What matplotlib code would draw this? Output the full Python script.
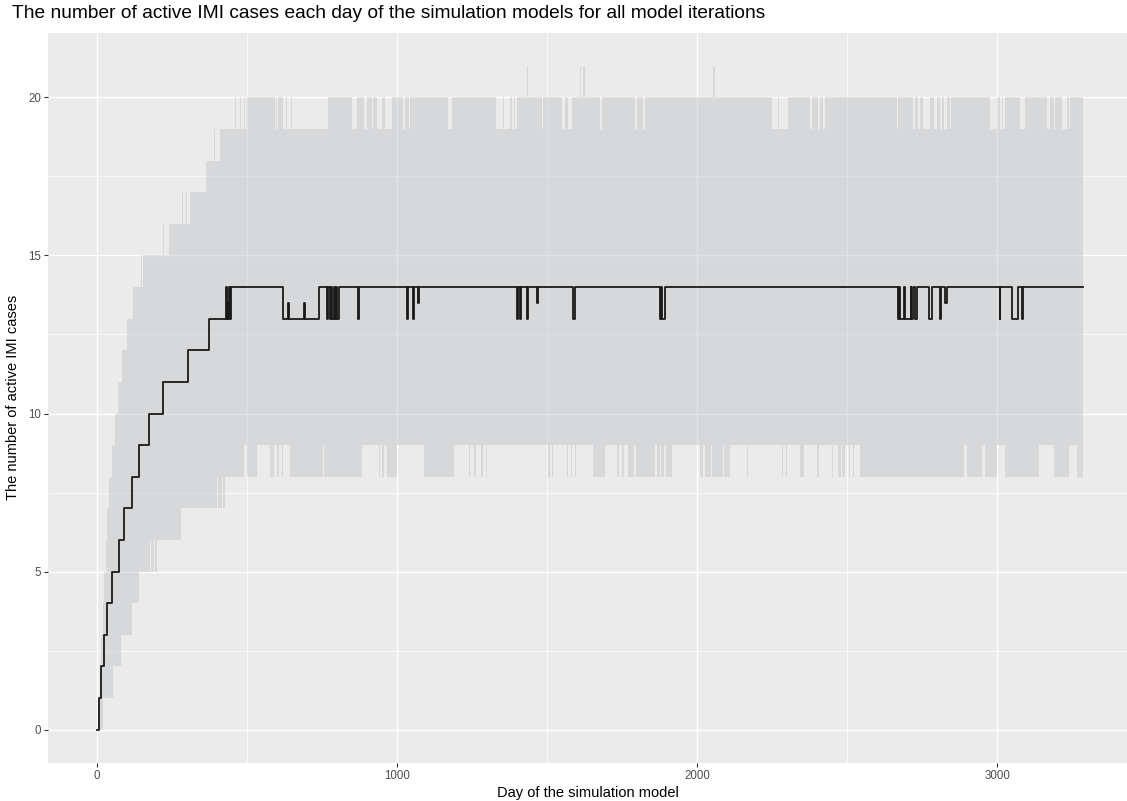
import matplotlib
matplotlib.use('Agg')
import matplotlib.pyplot as plt
import numpy as np

plt.rcParams['font.family'] = ['Liberation Sans', 'DejaVu Sans']

TITLE = 'The number of active IMI cases each day of the simulation models for all model iterations'
X_LABEL = 'Day of the simulation model'
Y_LABEL = 'The number of active IMI cases'

LAST_DAY = 3285
X_TICKS = [0, 1000, 2000, 3000]
Y_TICKS = [0, 5, 10, 15, 20]

# (day, value) change points of the median over all iterations
MEDIAN_STEPS = [
    (0, 0), (7, 1), (14, 2), (22, 3), (34, 4), (50, 5), (72, 6), (91, 7), (116, 8),
    (139, 9), (172, 10), (221, 11), (304, 12), (373, 13), (429, 14), (432, 13),
    (435, 13.5), (437, 13), (440, 14), (443, 13), (446, 14), (619, 13), (636, 13.5),
    (639, 13), (691, 13.5), (694, 13), (739, 14), (766, 13), (770, 14), (775, 13),
    (779, 14), (784, 13), (788, 14), (792, 13), (796, 14), (800, 13), (806, 14),
    (871, 13), (874, 14), (1032, 13), (1035, 14), (1054, 13), (1057, 14), (1069, 13.5),
    (1072, 14), (1400, 13), (1403, 14), (1410, 13), (1413, 14), (1433, 13), (1436, 14),
    (1467, 13.5), (1470, 14), (1587, 13), (1593, 14), (1875, 13), (1879, 14), (1882, 13),
    (1892, 14), (2668, 13), (2672, 14), (2675, 13), (2690, 14), (2693, 13), (2712, 14),
    (2714, 13), (2720, 14), (2725, 13), (2732, 14), (2774, 13), (2782, 14), (2808, 13),
    (2812, 14), (2827, 13.5), (2832, 14), (3008, 13), (3010, 14), (3048, 13), (3070, 14),
    (3083, 13), (3085, 14),
]

# (day, value) change points of the maximum over all iterations
MAX_STEPS = [
    (0, 0), (4, 1), (10, 2), (13, 3), (20, 4), (23, 5), (28, 6), (32, 7), (39, 8),
    (49, 9), (60, 10), (68, 11), (82, 12), (101, 13), (120, 14), (147, 15), (149, 14),
    (152, 15), (218, 16), (222, 15), (238, 16), (282, 17), (286, 16), (295, 17),
    (298, 16), (310, 17), (362, 18), (391, 19), (394, 18), (408, 19), (460, 20),
    (463, 19), (475, 20), (478, 19), (488, 20), (492, 19), (499, 20), (593, 19),
    (596, 20), (600, 19), (603, 20), (621, 19), (630, 20), (633, 19), (645, 20),
    (648, 19), (770, 20), (849, 19), (866, 20), (888, 19), (899, 20), (916, 19),
    (921, 20), (932, 19), (949, 20), (960, 19), (982, 20), (1021, 19), (1025, 20),
    (1040, 19), (1043, 20), (1171, 19), (1182, 20), (1330, 19), (1354, 20), (1357, 19),
    (1377, 20), (1382, 19), (1388, 20), (1392, 19), (1399, 20), (1433, 21), (1436, 20),
    (1482, 19), (1485, 20), (1549, 19), (1560, 20), (1568, 19), (1582, 20), (1610, 21),
    (1614, 20), (1620, 21), (1626, 20), (1677, 19), (1682, 20), (1793, 19), (1800, 20),
    (1818, 19), (1827, 20), (2053, 21), (2058, 20), (2249, 19), (2269, 20), (2274, 19),
    (2304, 20), (2377, 19), (2382, 20), (2404, 19), (2410, 20), (2421, 19), (2427, 20),
    (2665, 19), (2668, 20), (2721, 19), (2726, 20), (2735, 19), (2743, 20), (2754, 19),
    (2777, 20), (2788, 19), (2799, 20), (2810, 19), (2816, 20), (2822, 19), (2832, 20),
    (2843, 19), (2846, 20), (2977, 19), (2999, 20), (3010, 19), (3015, 20), (3020, 19),
    (3027, 20), (3077, 19), (3093, 20), (3166, 19), (3177, 20), (3188, 19), (3192, 20),
    (3216, 19), (3232, 20), (3241, 19), (3244, 20),
]

# (day, value) change points of the minimum over all iterations
MIN_STEPS = [
    (0, 0), (21, 1), (54, 2), (79, 3), (116, 4), (141, 5), (177, 6), (181, 5),
    (190, 6), (194, 5), (201, 6), (279, 7), (399, 8), (403, 7), (415, 8), (418, 7),
    (427, 8), (488, 9), (499, 8), (532, 9), (577, 8), (588, 9), (600, 8), (605, 9),
    (615, 8), (620, 9), (643, 8), (754, 9), (757, 8), (838, 9), (841, 8), (882, 9),
    (938, 8), (942, 9), (950, 8), (955, 9), (966, 8), (1000, 9), (1088, 8), (1188, 9),
    (1238, 8), (1243, 9), (1255, 8), (1262, 9), (1280, 8), (1285, 9), (1295, 8),
    (1300, 9), (1432, 8), (1434, 9), (1504, 8), (1510, 9), (1515, 8), (1521, 9),
    (1565, 8), (1568, 9), (1580, 8), (1584, 9), (1592, 8), (1596, 9), (1654, 8),
    (1693, 9), (1732, 8), (1740, 9), (1750, 8), (1755, 9), (1770, 8), (1788, 9),
    (1795, 8), (1860, 9), (1866, 8), (1875, 9), (1880, 8), (1890, 9), (1895, 8),
    (1916, 9), (2010, 8), (2020, 9), (2025, 8), (2045, 9), (2050, 8), (2085, 9),
    (2090, 8), (2110, 9), (2166, 8), (2169, 9), (2282, 8), (2287, 9), (2295, 8),
    (2299, 9), (2343, 8), (2356, 9), (2399, 8), (2407, 9), (2449, 8), (2454, 9),
    (2471, 8), (2480, 9), (2484, 8), (2493, 9), (2505, 8), (2508, 9), (2520, 8),
    (2523, 9), (2543, 8), (2888, 9), (2899, 8), (2949, 9), (2960, 8), (3000, 9),
    (3027, 8), (3138, 9), (3188, 8), (3238, 9), (3266, 8),
]


def steps_to_arrays(steps):
    days = np.array([s[0] for s in steps] + [LAST_DAY], dtype=float)
    vals = np.array([s[1] for s in steps] + [steps[-1][1]], dtype=float)
    return days, vals


def value_at(steps, days):
    d, v = steps_to_arrays(steps)
    idx = np.searchsorted(d, days, side='right') - 1
    return v[np.clip(idx, 0, len(v) - 1)]


def main():
    fig = plt.figure(figsize=(11.27, 8.01), dpi=100)
    ax = fig.add_axes([48 / 1127, 38.3 / 801, 1079 / 1127, 730 / 801])
    ax.set_facecolor('#EBEBEB')
    for s in ax.spines.values():
        s.set_visible(False)

    # ribbon between min and max
    x = np.union1d(steps_to_arrays(MAX_STEPS)[0], steps_to_arrays(MIN_STEPS)[0])
    hi = value_at(MAX_STEPS, x)
    lo = value_at(MIN_STEPS, x)
    ax.fill_between(x, lo, hi, step='post', color='#C3C5C9', alpha=0.48,
                    linewidth=0, zorder=2)

    md, mv = steps_to_arrays(MEDIAN_STEPS)
    ax.step(md, mv, where='post', color='#1A1A1A', linewidth=1.3, zorder=3)

    ax.set_xlim(-164, 3433)
    ax.set_ylim(-1.05, 22.05)
    ax.set_xticks(X_TICKS)
    ax.set_yticks(Y_TICKS)
    ax.set_xticks([500, 1500, 2500], minor=True)
    ax.set_yticks([2.5, 7.5, 12.5, 17.5], minor=True)
    ax.set_axisbelow(True)
    ax.grid(which='major', color='white', linewidth=1.0, zorder=1)
    ax.grid(which='minor', color='white', linewidth=0.5, zorder=1)
    ax.tick_params(which='major', length=3, width=0.8, color='#333333',
                   labelcolor='#4D4D4D', labelsize=8.3, pad=2)
    ax.tick_params(which='minor', length=0)

    ax.set_xlabel(X_LABEL, fontsize=10.5, color='black', labelpad=3)
    ax.set_ylabel(Y_LABEL, fontsize=10.5, color='black', labelpad=6)
    fig.text(12 / 1127, 1 - 14 / 801, TITLE, fontsize=13.8, color='black',
             ha='left', va='center')

    fig.savefig('out.png', dpi=100)
    plt.close(fig)


if __name__ == '__main__':
    main()
